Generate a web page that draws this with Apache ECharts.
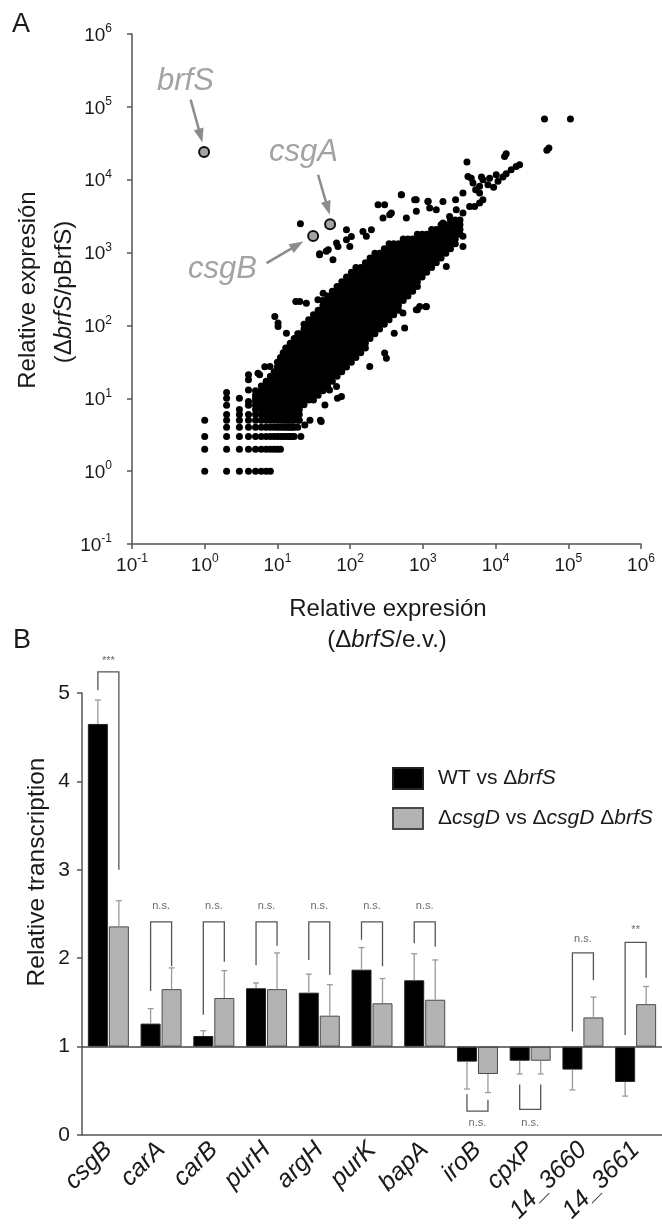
<!DOCTYPE html>
<html><head><meta charset="utf-8">
<script src="https://cdn.jsdelivr.net/npm/echarts@6/dist/echarts.min.js"></script>
<style>html,body{margin:0;padding:0;background:#fff}#c{width:662px;height:1228px}</style>
</head><body><div id="c"></div>
<script>
// ================= Panel A data (log-log scatter) =================
const decadeExponents = [-1, 0, 1, 2, 3, 4, 5, 6];

// dense cloud, read column by column: [x, [y values]]
const cloudColumns = [
  [1, [1, 2, 3, 5]],
  [2, [1, 2, 3, 4, 5, 6, 8, 10, 12]],
  [3, [1, 2, 3, 4, 5, 6, 7, 10]],
  [4, [1, 2, 3, 4, 5, 6, 8, 9, 13, 18, 21]],
  [5, [1, 2, 3, 4, 5, 6, 7, 8, 9, 10, 11, 12.7]],
  [6, [1, 2, 3, 4, 5, 6, 7, 8, 9, 10, 11, 12.7, 14.8]],
  [7, [1, 2, 3, 4, 5, 6, 7, 8, 9, 10, 11, 12.7, 14.8, 17.2]],
  [8, [1, 2, 3, 4, 5, 6, 7, 8, 9, 10, 11, 12.7, 14.8, 17.2, 20]],
  [9, [2, 3, 4, 5, 6, 7, 8, 9, 10, 11, 12.7, 14.8, 17.2, 20, 23.2]],
  [10, [2, 3, 4, 5, 6, 7, 8, 9, 10, 11, 12.7, 14.8, 17.2, 20, 23.2, 26.9, 31.3]],
  [11, [2, 3, 4, 5, 6, 7, 8, 9, 10, 11, 12.7, 14.8, 17.2, 20, 23.2, 26.9, 31.3, 36.3]],
  [12, [3, 4, 5, 6, 7, 8, 9, 10, 11, 12.7, 14.8, 17.2, 20, 23.2, 26.9, 31.3, 36.3, 42.2]],
  [13, [3, 4, 5, 6, 7, 8, 9, 10, 11, 12.7, 14.8, 17.2, 20, 23.2, 26.9, 31.3, 36.3, 42.2, 49]],
  [14, [3, 4, 5, 6, 7, 8, 9, 10, 11, 12.7, 14.8, 17.2, 20, 23.2, 26.9, 31.3, 36.3, 42.2, 49]],
  [15, [3, 4, 5, 6, 7, 8, 9, 10, 11, 12.7, 14.8, 17.2, 20, 23.2, 26.9, 31.3, 36.3, 42.2, 49, 56.9]],
  [16, [3, 4, 5, 6, 7, 8, 9, 10, 11, 12.7, 14.8, 17.2, 20, 23.2, 26.9, 31.3, 36.3, 42.2, 49, 56.9]],
  [17, [3, 4, 5, 6, 7, 8, 9, 10, 11, 12.7, 14.8, 17.2, 20, 23.2, 26.9, 31.3, 36.3, 42.2, 49, 56.9, 66.1]],
  [19, [4, 5, 6, 7, 8, 9, 10, 11, 12.7, 14.8, 17.2, 20, 23.2, 26.9, 31.3, 36.3, 42.2, 49, 56.9, 66.1, 76.7]],
  [20, [5, 6, 7, 8, 9, 10, 11, 12.7, 14.8, 17.2, 20, 23.2, 26.9, 31.3, 36.3, 42.2, 49, 56.9, 66.1, 76.7]],
  [21, [3]],
  [23.2, [8.13, 9.44, 11, 12.7, 14.8, 17.2, 20, 23.2, 26.9, 31.3, 36.3, 42.2, 49, 56.9, 66.1, 76.7, 89.1, 104]],
  [26.9, [9.44, 11, 12.7, 14.8, 17.2, 20, 23.2, 26.9, 31.3, 36.3, 42.2, 49, 56.9, 66.1, 76.7, 89.1, 104, 120]],
  [31.3, [9.44, 11, 12.7, 14.8, 17.2, 20, 23.2, 26.9, 31.3, 36.3, 42.2, 49, 56.9, 66.1, 76.7, 89.1, 104, 120, 140]],
  [36.3, [11, 12.7, 14.8, 17.2, 20, 23.2, 26.9, 31.3, 36.3, 42.2, 49, 56.9, 66.1, 76.7, 89.1, 104, 120, 140, 162]],
  [42.2, [12.7, 14.8, 17.2, 20, 23.2, 26.9, 31.3, 36.3, 42.2, 49, 56.9, 66.1, 76.7, 89.1, 104, 120, 140, 162, 188, 219]],
  [49, [14.8, 17.2, 20, 23.2, 26.9, 31.3, 36.3, 42.2, 49, 56.9, 66.1, 76.7, 89.1, 104, 120, 140, 162, 188, 219, 254]],
  [56.9, [17.2, 20, 23.2, 26.9, 31.3, 36.3, 42.2, 49, 56.9, 66.1, 76.7, 89.1, 104, 120, 140, 162, 188, 219, 254, 295]],
  [66.1, [20, 23.2, 26.9, 31.3, 36.3, 42.2, 49, 56.9, 66.1, 76.7, 89.1, 104, 120, 140, 162, 188, 219, 254, 295, 343]],
  [76.7, [23.2, 26.9, 31.3, 36.3, 42.2, 49, 56.9, 66.1, 76.7, 89.1, 104, 120, 140, 162, 188, 219, 254, 295, 343, 398]],
  [89.1, [26.9, 31.3, 36.3, 42.2, 49, 56.9, 66.1, 76.7, 89.1, 104, 120, 140, 162, 188, 219, 254, 295, 343, 398, 462]],
  [104, [31.3, 36.3, 42.2, 49, 56.9, 66.1, 76.7, 89.1, 104, 120, 140, 162, 188, 219, 254, 295, 343, 398, 462, 537]],
  [120, [36.3, 42.2, 49, 56.9, 66.1, 76.7, 89.1, 104, 120, 140, 162, 188, 219, 254, 295, 343, 398, 462, 537, 624]],
  [140, [42.2, 49, 56.9, 66.1, 76.7, 89.1, 104, 120, 140, 162, 188, 219, 254, 295, 343, 398, 462, 537, 624]],
  [162, [49, 56.9, 66.1, 76.7, 89.1, 104, 120, 140, 162, 188, 219, 254, 295, 343, 398, 462, 537, 624, 724]],
  [188, [66.1, 76.7, 89.1, 104, 120, 140, 162, 188, 219, 254, 295, 343, 398, 462, 537, 624, 724, 841]],
  [219, [76.7, 89.1, 104, 120, 140, 162, 188, 219, 254, 295, 343, 398, 462, 537, 624, 724, 841, 977]],
  [254, [89.1, 104, 120, 140, 162, 188, 219, 254, 295, 343, 398, 462, 537, 624, 724, 841, 977]],
  [295, [104, 120, 140, 162, 188, 219, 254, 295, 343, 398, 462, 537, 624, 724, 841, 977, 1130]],
  [343, [120, 140, 162, 188, 219, 254, 295, 343, 398, 462, 537, 624, 724, 841, 977, 1130, 1320]],
  [398, [140, 162, 188, 219, 254, 295, 343, 398, 462, 537, 624, 724, 841, 977, 1130, 1320]],
  [462, [162, 188, 219, 254, 295, 343, 398, 462, 537, 624, 724, 841, 977, 1130, 1320]],
  [537, [219, 254, 295, 343, 398, 462, 537, 624, 724, 841, 977, 1130, 1320, 1530]],
  [624, [254, 295, 343, 398, 462, 537, 624, 724, 841, 977, 1130, 1320, 1530]],
  [724, [295, 343, 398, 462, 537, 624, 724, 841, 977, 1130, 1320, 1530]],
  [841, [343, 398, 462, 537, 624, 724, 841, 977, 1130, 1320, 1530, 1780]],
  [977, [462, 537, 624, 724, 841, 977, 1130, 1320, 1530, 1780]],
  [1130, [537, 624, 724, 841, 977, 1130, 1320, 1530, 1780]],
  [1320, [624, 724, 841, 977, 1130, 1320, 1530, 1780, 2070]],
  [1530, [724, 841, 977, 1130, 1320, 1530, 1780, 2070]],
  [1780, [841, 977, 1130, 1320, 1530, 1780, 2070, 2400]],
  [2070, [977, 1130, 1320, 1530, 1780, 2070, 2400]],
  [2400, [1130, 1320, 1530, 1780, 2070, 2400, 2790]],
  [2790, [1320, 1530, 1780, 2070, 2400, 2790]],
  [3240, [1780, 2070, 2400, 2790]]
];

// scattered genes around the cloud: [x, y]
const scatterOutliers = [
  [47100, 68100], [107000, 68100], [50700, 25300], [54100, 27200], [14000, 22700], [13300, 20900],
  [21400, 16100], [19200, 15200], [16400, 13700], [14000, 12100], [12600, 10900], [10800, 9500],
  [9400, 7900], [7850, 8500], [6700, 10000], [6400, 10900], [4040, 17500], [4170, 11100],
  [4630, 10500], [5320, 7300], [6030, 6560], [6700, 5300], [6030, 4780], [5150, 4300],
  [3560, 6560], [2820, 5310], [1890, 5040], [1180, 5050], [1240, 4080], [810, 5300],
  [506, 6220], [350, 3310], [242, 4540], [283, 2980], [167, 1670], [89, 1500], [68, 1210],
  [58, 796], [47, 1040], [38, 933], [20.7, 2490], [20.3, 213], [25, 202], [36, 225], [42.5, 277],
  [9.2, 133], [10.2, 97], [13.3, 78], [7.9, 27.3], [5.7, 21], [5.4, 22], [6.7, 27],
  [186, 27.3], [298, 41.7], [315, 35.5], [76, 10.6], [40, 4.8], [23.8, 4.3], [52, 13], [65, 14.5],
  [533, 148], [904, 182], [1120, 182], [813, 164], [2100, 646], [3560, 1210], [3560, 1670],
  [404, 78], [562, 92], [841, 164], [1100, 180], [67, 10], [45, 8.1], [28, 5], [39, 5],
  [38, 964], [89, 2055], [104, 1667], [50, 1090], [65, 1350], [99, 1213], [150, 1950], [196, 2055],
  [298, 4540], [507, 6220], [771, 5310], [1175, 5010], [369, 3490], [593, 2980], [813, 3680],
  [1530, 3870], [17.9, 213], [10.2, 108], [4890, 9000], [6030, 8110], [4400, 4300], [3560, 3480],
  [2880, 3870], [2330, 3130], [1890, 2540], [8280, 10500], [10200, 11700]
];

const highlightGenes = ['brfS', 'csgA', 'csgB'];
const highlightPoints = [[0.98, 24000], [53, 2450], [31, 1690]];
const annotationLabelPos = [[0.552, 222000], [23.1, 23500], [1.78, 581]];
const arrowStarts = [[0.64, 125600], [36.2, 11700], [7.08, 718]];
const arrowEnds = [[0.876, 40200], [49.2, 4080], [18.7, 1268]];

// ================= Panel B data (bars) =================
const categories = ['csgB', 'carA', 'carB', 'purH', 'argH', 'purK', 'bapA', 'iroB', 'cpxP', '14_3660', '14_3661'];
const wtValues = [4.65, 1.26, 1.12, 1.66, 1.61, 1.87, 1.75, 0.83, 0.84, 0.74, 0.60];
const wtErrors = [0.27, 0.17, 0.06, 0.06, 0.21, 0.25, 0.30, 0.31, 0.15, 0.23, 0.16];
const csgdValues = [2.36, 1.65, 1.55, 1.65, 1.35, 1.49, 1.53, 0.69, 0.84, 1.33, 1.48];
const csgdErrors = [0.29, 0.24, 0.31, 0.41, 0.35, 0.28, 0.45, 0.21, 0.15, 0.23, 0.20];
const sigLabels = ['***', 'n.s.', 'n.s.', 'n.s.', 'n.s.', 'n.s.', 'n.s.', 'n.s.', 'n.s.', 'n.s.', '**'];
const bracketLevels = [5.24, 2.41, 2.41, 2.41, 2.41, 2.41, 2.41, 0.27, 0.29, 2.06, 2.18];
const bracketLeftEnds = [5.03, 1.63, 1.36, 1.92, 1.98, 2.21, 2.17, 0.46, 0.57, 1.17, 1.13];
const bracketRightEnds = [3.0, 1.91, 1.96, 2.14, 1.81, 1.91, 2.13, 0.40, 0.57, 1.75, 1.78];
const sigTextLevels = [5.36, 2.59, 2.59, 2.59, 2.59, 2.59, 2.59, 0.14, 0.14, 2.22, 2.32];
const yTicksB = [0, 1, 2, 3, 4, 5];
const barBaseline = 1;
const seriesNames = ['WT vs ΔbrfS', 'ΔcsgD vs ΔcsgD ΔbrfS'];

// ================= build =================
const FONT = "'Liberation Sans', Arial, Helvetica, sans-serif";
const BAR_W = 20;
const BAR_OFF = (BAR_W + 1) / 2;

const cloudData = [];
cloudColumns.forEach(([x, ys]) => ys.forEach(y => cloudData.push([x, y])));
scatterOutliers.forEach(p => cloudData.push(p));

const annotData = annotationLabelPos.map((p, i) => [p[0], p[1], highlightGenes[i]]);
const arrowLines = arrowStarts.map((s, i) => [{ coord: s }, { coord: arrowEnds[i] }]);

const wtBase = wtValues.map(v => Math.min(v, barBaseline));
const wtSpan = wtValues.map(v => +Math.abs(v - barBaseline).toFixed(3));
const csBase = csgdValues.map(v => Math.min(v, barBaseline));
const csSpan = csgdValues.map(v => +Math.abs(v - barBaseline).toFixed(3));

const errorRows = [];
categories.forEach((c, i) => {
  const w = wtValues[i], g = csgdValues[i];
  errorRows.push([i, w, w >= barBaseline ? w + wtErrors[i] : w - wtErrors[i], -1]);
  errorRows.push([i, g, g >= barBaseline ? g + csgdErrors[i] : g - csgdErrors[i], 1]);
});
const bracketRows = categories.map((c, i) => [i, bracketLevels[i], bracketLeftEnds[i], bracketRightEnds[i], sigTextLevels[i]]);

function expLabel(v) {
  const e = Math.round(Math.log10(v));
  const idx = decadeExponents.indexOf(e);
  return '{b|10}{s|' + (idx >= 0 ? decadeExponents[idx] : e) + '}';
}
const supRich = {
  b: { fontSize: 19, fontFamily: FONT, color: '#1a1a1a', lineHeight: 22, verticalAlign: 'bottom' },
  s: { fontSize: 12, fontFamily: FONT, color: '#1a1a1a', lineHeight: 12, verticalAlign: 'top' }
};
const axisGray = '#555';

const legendFmt = {
  'WT vs ΔbrfS': '{n|WT vs Δ}{i|brfS}',
  'ΔcsgD vs ΔcsgD ΔbrfS': '{n|Δ}{i|csgD}{n| vs Δ}{i|csgD}{n| Δ}{i|brfS}'
};

function textEl(x, y, text, size, rot, rich) {
  return {
    type: 'text', x: x, y: y, rotation: rot || 0, silent: true,
    style: {
      text: text, fill: '#1a1a1a', fontSize: size, fontFamily: FONT,
      align: 'center', verticalAlign: 'middle', textAlign: 'center', textVerticalAlign: 'middle',
      rich: rich || {}
    }
  };
}
const titleRich = (size) => ({
  n: { fontSize: size, fontFamily: FONT, color: '#1a1a1a' },
  i: { fontSize: size, fontFamily: FONT, color: '#1a1a1a', fontStyle: 'italic' }
});

const option = {
  backgroundColor: '#fff',
  animation: false,
  textStyle: { fontFamily: FONT },
  grid: [
    { left: 132, top: 34, width: 509, height: 510 },
    { left: 82, top: 693, right: -7, height: 442 }
  ],
  legend: {
    left: 392, top: 767, padding: 0, orient: 'vertical',
    itemWidth: 30, itemHeight: 21, itemGap: 17, icon: 'rect',
    data: seriesNames,
    formatter: (name) => legendFmt[name] || name,
    textStyle: {
      fontSize: 21, fontFamily: FONT, color: '#1a1a1a', padding: [0, 0, 0, 10],
      rich: {
        n: { fontSize: 21, fontFamily: FONT, color: '#1a1a1a' },
        i: { fontSize: 21, fontFamily: FONT, color: '#1a1a1a', fontStyle: 'italic' }
      }
    },
    selectedMode: false
  },
  xAxis: [
    {
      gridIndex: 0, type: 'log', logBase: 10, min: 0.1, max: 1000000,
      axisLine: { lineStyle: { color: axisGray, width: 1.5 } },
      axisTick: { length: 5, lineStyle: { color: axisGray, width: 1.5 } },
      splitLine: { show: false }, minorTick: { show: false },
      axisLabel: { margin: 9, formatter: expLabel, rich: supRich }
    },
    {
      gridIndex: 1, type: 'category', data: categories,
      axisLine: { lineStyle: { color: axisGray, width: 1.5 } },
      axisTick: { length: 5, interval: 0, lineStyle: { color: axisGray, width: 1.5 } },
      axisLabel: { interval: 0, rotate: 45, margin: 11, fontSize: 25, fontStyle: 'italic', color: '#1a1a1a', fontFamily: FONT }
    }
  ],
  yAxis: [
    {
      gridIndex: 0, type: 'log', logBase: 10, min: 0.1, max: 1000000,
      axisLine: { show: true, lineStyle: { color: axisGray, width: 1.5 } },
      axisTick: { show: true, length: 5, lineStyle: { color: axisGray, width: 1.5 } },
      splitLine: { show: false }, minorTick: { show: false },
      axisLabel: { margin: 20, formatter: expLabel, rich: supRich }
    },
    {
      gridIndex: 1, type: 'value', min: yTicksB[0], max: yTicksB[yTicksB.length - 1], interval: 1,
      axisLine: { show: true, lineStyle: { color: axisGray, width: 1.5 } },
      axisTick: { show: true, length: 5, lineStyle: { color: axisGray, width: 1.5 } },
      splitLine: { show: false },
      axisLabel: { margin: 12, fontSize: 21, color: '#1a1a1a', fontFamily: FONT }
    }
  ],
  graphic: [
    textEl(21, 25, 'A', 27),
    textEl(22, 641, 'B', 27),
    textEl(28.5, 290, 'Relative expresión', 24, Math.PI / 2),
    textEl(64.5, 292, '{n|(Δ}{i|brfS}{n|/pBrfS)}', 24, Math.PI / 2, titleRich(24)),
    textEl(388, 609, 'Relative expresión', 24),
    textEl(387, 640, '{n|(Δ}{i|brfS}{n|/e.v.)}', 24, 0, titleRich(24)),
    textEl(37.5, 872, 'Relative transcription', 24.5, Math.PI / 2)
  ],
  series: [
    {
      name: 'cloud', type: 'scatter', xAxisIndex: 0, yAxisIndex: 0,
      data: cloudData, symbolSize: 7, itemStyle: { color: '#000', opacity: 1 }, silent: true, z: 2
    },
    {
      name: 'highlight', type: 'scatter', xAxisIndex: 0, yAxisIndex: 0,
      data: highlightPoints, symbolSize: 10,
      itemStyle: { color: '#a3a3a3', borderColor: '#111', borderWidth: 2, opacity: 1 }, silent: true, z: 4
    },
    {
      name: 'annot', type: 'scatter', xAxisIndex: 0, yAxisIndex: 0,
      data: annotData, symbolSize: 1, itemStyle: { color: 'rgba(0,0,0,0)' }, silent: true, z: 5,
      label: {
        show: true, position: [0, 0], align: 'center', verticalAlign: 'middle',
        formatter: (p) => p.value[2], fontSize: 31, fontStyle: 'italic', color: '#8c8c8c', fontFamily: FONT
      },
      markLine: {
        silent: true, symbol: ['none', 'triangle'], symbolSize: [10, 14],
        label: { show: false },
        lineStyle: { color: '#8c8c8c', width: 2.5, type: 'solid' },
        data: arrowLines
      }
    },
    {
      name: 'wtBase', type: 'bar', xAxisIndex: 1, yAxisIndex: 1, stack: 'wt',
      data: wtBase, barWidth: BAR_W, barGap: '5%', itemStyle: { color: 'rgba(0,0,0,0)' }, silent: true
    },
    {
      name: seriesNames[0], type: 'bar', xAxisIndex: 1, yAxisIndex: 1, stack: 'wt',
      data: wtSpan, barWidth: BAR_W, barGap: '5%',
      itemStyle: { color: '#000', borderColor: '#222', borderWidth: 1 }, silent: true,
      markLine: {
        silent: true, symbol: 'none', label: { show: false },
        lineStyle: { color: '#444', width: 1.5, type: 'solid' },
        data: [{ yAxis: barBaseline }]
      }
    },
    {
      name: 'csBase', type: 'bar', xAxisIndex: 1, yAxisIndex: 1, stack: 'cs',
      data: csBase, barWidth: BAR_W, barGap: '5%', itemStyle: { color: 'rgba(0,0,0,0)' }, silent: true
    },
    {
      name: seriesNames[1], type: 'bar', xAxisIndex: 1, yAxisIndex: 1, stack: 'cs',
      data: csSpan, barWidth: BAR_W, barGap: '5%',
      itemStyle: { color: '#b3b3b3', borderColor: '#4a4a4a', borderWidth: 1 }, silent: true
    },
    {
      name: 'errors', type: 'custom', xAxisIndex: 1, yAxisIndex: 1, clip: false, silent: true, z: 5,
      encode: { x: 0, y: [1, 2] },
      data: errorRows,
      renderItem: function (params, api) {
        const i = api.value(0);
        const a = api.coord([i, api.value(1)]);
        const b = api.coord([i, api.value(2)]);
        const x = a[0] + api.value(3) * BAR_OFF;
        const st = { stroke: '#9a9a9a', lineWidth: 1.3 };
        return {
          type: 'group', children: [
            { type: 'line', shape: { x1: x, y1: a[1], x2: x, y2: b[1] }, style: st },
            { type: 'line', shape: { x1: x - 3, y1: b[1], x2: x + 3, y2: b[1] }, style: st }
          ]
        };
      }
    },
    {
      name: 'brackets', type: 'custom', xAxisIndex: 1, yAxisIndex: 1, clip: false, silent: true, z: 5,
      encode: { x: 0, y: [1, 2, 3, 4] },
      data: bracketRows,
      renderItem: function (params, api) {
        const i = api.value(0);
        const c = api.coord([i, api.value(1)]);
        const l = api.coord([i, api.value(2)]);
        const r = api.coord([i, api.value(3)]);
        const t = api.coord([i, api.value(4)]);
        const xL = c[0] - BAR_OFF, xR = c[0] + BAR_OFF;
        return {
          type: 'group', children: [
            {
              type: 'polyline',
              shape: { points: [[xL, l[1]], [xL, c[1]], [xR, c[1]], [xR, r[1]]] },
              style: { stroke: '#555', lineWidth: 1.3, fill: null }
            },
            {
              type: 'text', x: c[0], y: t[1],
              style: {
                text: sigLabels[params.dataIndex], fill: '#6a6a6a', fontSize: 11, fontFamily: FONT,
                align: 'center', verticalAlign: 'middle', textAlign: 'center', textVerticalAlign: 'middle'
              }
            }
          ]
        };
      }
    }
  ]
};

const chart = echarts.init(document.getElementById('c'), null, { renderer: 'canvas', width: 662, height: 1228 });
chart.setOption(option);
</script>
</body></html>
